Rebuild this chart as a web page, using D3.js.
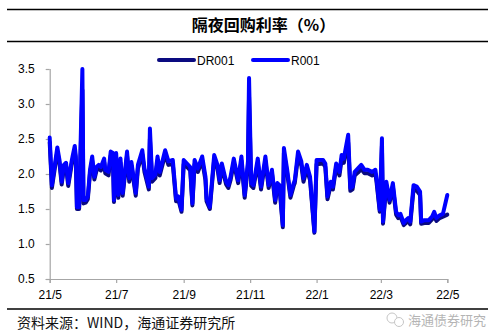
<!DOCTYPE html>
<html><head><meta charset="utf-8">
<script src="https://cdn.jsdelivr.net/npm/d3@7"></script>
<style>body{margin:0;background:#fff}svg{display:block}</style>
</head><body><div id="chart"></div>
<script>
const title = "隔夜回购利率（%）";
const source = "资料来源：WIND，海通证券研究所";
const seriesNames = ["DR001", "R001"];
const yTicks = [0.5, 1.0, 1.5, 2.0, 2.5, 3.0, 3.5];
const xTickDates = ["2021-05-01","2021-07-01","2021-09-01","2021-11-01","2022-01-01","2022-03-01","2022-05-01"];
const xTickLabels = ["21/5","21/7","21/9","21/11","22/1","22/3","22/5"];
const dates = [
"2021-05-01","2021-05-03","2021-05-08","2021-05-10","2021-05-12","2021-05-14","2021-05-16","2021-05-18","2021-05-21","2021-05-22",
"2021-05-24","2021-05-25","2021-05-26","2021-05-28","2021-05-31","2021-06-01","2021-06-03","2021-06-05","2021-06-07","2021-06-09",
"2021-06-11","2021-06-13","2021-06-15","2021-06-17","2021-06-20","2021-06-21","2021-06-24","2021-06-26","2021-06-28","2021-06-29",
"2021-07-01","2021-07-03","2021-07-05","2021-07-07","2021-07-11","2021-07-13","2021-07-15","2021-07-19","2021-07-21","2021-07-25",
"2021-07-27","2021-07-31","2021-08-01","2021-08-03","2021-08-06","2021-08-08","2021-08-10","2021-08-15","2021-08-18","2021-08-22",
"2021-08-25","2021-08-27","2021-08-30","2021-09-01","2021-09-04","2021-09-07","2021-09-09","2021-09-11","2021-09-14","2021-09-18",
"2021-09-21","2021-09-22","2021-09-25","2021-09-29","2021-10-02","2021-10-04","2021-10-06","2021-10-10","2021-10-12","2021-10-14",
"2021-10-17","2021-10-21","2021-10-24","2021-10-27","2021-10-30","2021-10-31","2021-11-02","2021-11-04","2021-11-08","2021-11-11",
"2021-11-15","2021-11-18","2021-11-21","2021-11-24","2021-11-26","2021-11-28","2021-12-01","2021-12-02","2021-12-05","2021-12-08",
"2021-12-11","2021-12-12","2021-12-15","2021-12-18","2021-12-20","2021-12-23","2021-12-26","2021-12-30","2022-01-01","2022-01-07",
"2022-01-09","2022-01-11","2022-01-14","2022-01-16","2022-01-19","2022-01-22","2022-01-24","2022-01-26","2022-01-30","2022-02-01",
"2022-02-03","2022-02-05","2022-02-08","2022-02-11","2022-02-14","2022-02-17","2022-02-21","2022-02-24","2022-02-25","2022-02-28",
"2022-03-02","2022-03-03","2022-03-06","2022-03-09","2022-03-12","2022-03-15","2022-03-17","2022-03-19","2022-03-22","2022-03-24",
"2022-03-26","2022-03-28","2022-03-31","2022-04-03","2022-04-06","2022-04-07","2022-04-10","2022-04-14","2022-04-17","2022-04-19",
"2022-04-21","2022-04-24","2022-04-27","2022-05-01"];
const r001 = [
2.52,1.84,2.38,2.20,1.89,2.13,2.16,1.87,2.17,2.25,
2.40,2.25,1.53,1.53,3.50,1.63,1.63,1.68,2.06,2.25,
1.96,2.10,2.13,2.10,2.22,2.06,2.03,2.32,2.30,1.63,
2.30,1.70,2.22,1.73,2.32,1.94,2.17,1.73,2.13,2.34,
2.08,1.82,2.65,1.94,1.99,2.25,2.03,2.34,2.18,2.20,
1.65,1.68,1.49,2.20,2.15,2.10,1.58,2.20,2.08,2.25,
1.96,1.65,1.53,2.27,2.13,1.91,2.15,1.89,1.84,1.96,
2.22,1.91,2.25,1.70,2.18,3.37,1.87,1.84,2.22,1.82,
2.25,1.84,2.06,1.63,1.87,1.84,1.27,2.37,2.06,1.70,
1.87,1.91,2.32,2.18,1.94,2.13,1.96,1.18,2.20,2.20,
2.15,1.68,1.89,1.82,2.15,2.03,2.27,2.22,2.56,1.80,
1.82,2.03,2.08,2.13,2.06,2.06,2.03,2.06,1.94,1.49,
2.51,1.32,1.89,1.63,1.87,1.46,1.41,1.43,1.30,1.34,
1.37,1.32,1.84,1.82,1.75,1.32,1.34,1.34,1.39,1.46,
1.37,1.41,1.43,1.70];
const dr001 = [
2.45,1.80,2.32,2.15,1.85,2.08,2.11,1.83,2.12,2.20,
2.33,2.20,1.50,1.50,3.20,1.58,1.59,1.64,2.01,2.19,
1.92,2.05,2.08,2.05,2.17,2.01,1.98,2.26,2.24,1.60,
2.24,1.66,2.16,1.69,2.26,1.89,2.12,1.69,2.08,2.28,
2.03,1.78,2.50,1.89,1.94,2.19,1.98,2.28,2.13,2.14,
1.61,1.64,1.46,2.14,2.10,2.05,1.55,2.14,2.03,2.19,
1.91,1.61,1.50,2.21,2.08,1.87,2.10,1.85,1.80,1.91,
2.16,1.87,2.19,1.66,2.12,3.10,1.83,1.80,2.16,1.78,
2.19,1.80,2.01,1.59,1.83,1.80,1.24,2.30,2.01,1.66,
1.83,1.87,2.25,2.12,1.89,2.07,1.91,1.16,2.14,2.15,
2.10,1.64,1.84,1.78,2.10,1.98,2.21,2.16,2.45,1.76,
1.78,1.98,2.02,2.07,2.01,2.01,1.98,2.00,1.89,1.46,
2.40,1.29,1.84,1.59,1.82,1.42,1.37,1.39,1.27,1.30,
1.33,1.28,1.78,1.76,1.70,1.29,1.30,1.30,1.35,1.40,
1.33,1.37,1.39,1.42];
const colors = ["#0A0A80", "#0000FF"];

const W = 496, H = 334;
const svg = d3.select("#chart").append("svg").attr("width", W).attr("height", H)
  .style("font-family", "'Liberation Sans', Arial, sans-serif");
const parse = d3.timeParse("%Y-%m-%d");
const x = d3.scaleTime().domain([parse("2021-05-01"), parse("2022-05-01")]).range([49.7, 447.3]);
const y = d3.scaleLinear().domain([0.5, 3.5]).range([279, 69]);

// title rules
svg.append("line").attr("x1", 7).attr("x2", 488).attr("y1", 9.5).attr("y2", 9.5).attr("stroke", "#000").attr("stroke-width", 1.5);
svg.append("line").attr("x1", 7).attr("x2", 488).attr("y1", 41.5).attr("y2", 41.5).attr("stroke", "#000").attr("stroke-width", 1.5);
svg.append("text").attr("x", 263.5).attr("y", 31).attr("text-anchor", "middle")
  .style("font-family", "'Noto Sans CJK SC', sans-serif").style("font-weight", "bold").style("font-size", "16px")
  .text(title);

// axes
const yAxis = svg.append("g").attr("transform", "translate(49.7,0)")
  .call(d3.axisLeft(y).tickValues(yTicks).tickFormat(d3.format(".1f")).tickSize(4).tickPadding(11));
const xAxis = svg.append("g").attr("transform", "translate(0,279)")
  .call(d3.axisBottom(x).tickValues(xTickDates.map(parse)).tickFormat((d, i) => xTickLabels[i]).tickSize(4).tickPadding(7));
[yAxis, xAxis].forEach(g => {
  g.select(".domain").attr("stroke", "#A6A6A6").attr("stroke-width", 1.2);
  g.selectAll(".tick line").attr("stroke", "#A6A6A6").attr("stroke-width", 1.2);
  g.selectAll(".tick text").attr("fill", "#000").style("font-size", "12px").style("font-family", "'Liberation Sans', Arial, sans-serif");
});
yAxis.select(".domain").attr("d", "M-4,279.5H0.5V69");

// lines
const data = [dr001, r001];
const line = d3.line().x((d, i) => x(parse(dates[i]))).y(d => y(d)).curve(d3.curveLinear);
data.forEach((s, k) => {
  svg.append("path").datum(s).attr("d", line).attr("fill", "none")
    .attr("stroke", colors[k]).attr("stroke-width", 4).attr("stroke-linejoin", "round").attr("stroke-linecap", "round");
});

// legend
const legendX = [159, 253];
seriesNames.forEach((n, k) => {
  svg.append("line").attr("x1", legendX[k]).attr("x2", legendX[k] + 35).attr("y1", 60).attr("y2", 60)
    .attr("stroke", colors[k]).attr("stroke-width", 4).attr("stroke-linecap", "round");
  svg.append("text").attr("x", legendX[k] + 38).attr("y", 64.5).style("font-size", "12px").attr("fill", "#000").text(n);
});

// footer
svg.append("line").attr("x1", 7).attr("x2", 488).attr("y1", 309).attr("y2", 309).attr("stroke", "#000").attr("stroke-width", 1.3);
svg.append("text").attr("x", 17).attr("y", 328).style("font-family", "'Noto Sans CJK SC', sans-serif").style("font-size", "14px")
  .attr("fill", "#111").text(source);
// watermark
const wm = svg.append("g").attr("opacity", 0.55);
wm.append("circle").attr("cx", 392).attr("cy", 318).attr("r", 5).attr("fill", "#fff").attr("stroke", "#999");
wm.append("circle").attr("cx", 399).attr("cy", 322).attr("r", 4.5).attr("fill", "#fff").attr("stroke", "#999");
wm.append("text").attr("x", 408).attr("y", 325).style("font-family", "'Noto Sans CJK SC', sans-serif").style("font-size", "13px")
  .attr("fill", "#777").text("海通债券研究");
</script></body></html>
